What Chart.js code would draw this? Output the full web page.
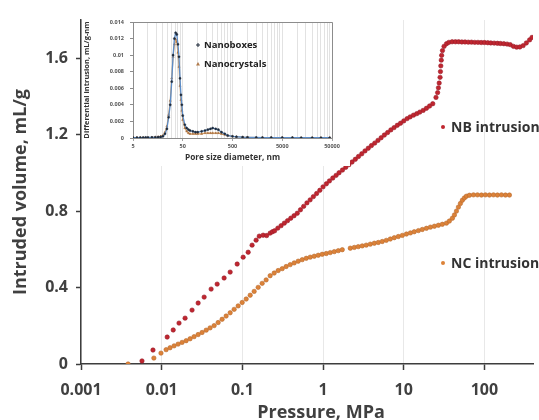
<!DOCTYPE html>
<html>
<head>
<meta charset="utf-8">
<script src="https://cdn.jsdelivr.net/npm/chart.js@4.4.1/dist/chart.umd.min.js"></script>
<style>
  html, body { margin: 0; padding: 0; background: #fff; }
  #wrap { position: relative; width: 539px; height: 420px; overflow: hidden; }
  #main { position: absolute; left: 0; top: 0; }
  #inset { position: absolute; left: 82px; top: 10px; background: #fff; }
</style>
</head>
<body>
<div id="wrap">
  <canvas id="main" width="539" height="420"></canvas>
  <canvas id="inset" width="268" height="156"></canvas>
</div>
<script>
// ---- Mercury intrusion curves (pressure in MPa, intruded volume in mL/g) ----
const pressureTicks = [0.001, 0.01, 0.1, 1, 10, 100];
const pressureTickLabels = ['0.001', '0.01', '0.1', '1', '10', '100'];
const volumeTicks = [0, 0.4, 0.8, 1.2, 1.6];
const volumeTickLabels = ['0', '0.4', '0.8', '1.2', '1.6'];

const seriesNames = ['NB intrusion', 'NC intrusion'];

const nbPressure = [
  0.0057, 0.0078, 0.0117, 0.0139, 0.0164, 0.0195, 0.0238, 0.0283, 0.0336, 0.0410,
  0.0487, 0.0594, 0.0706, 0.0862, 0.1023, 0.118, 0.132, 0.148, 0.162, 0.181,
  0.200, 0.221, 0.236,
  0.251, 0.275, 0.302, 0.331, 0.363, 0.398, 0.437, 0.479, 0.525, 0.575,
  0.631, 0.692, 0.759, 0.832, 0.912, 1.00, 1.10, 1.20, 1.32, 1.45,
  1.58, 1.74, 1.91, 2.09, 2.29, 2.51, 2.75, 3.02, 3.31, 3.63,
  3.98, 4.37, 4.79, 5.25, 5.75, 6.31, 6.92, 7.59, 8.32, 9.12,
  10.0, 11.0, 12.0, 13.2, 14.5, 15.8, 17.4, 19.1, 20.9, 22.9, 25.1,
  26.3, 26.9, 27.5, 28.2, 28.5, 28.8, 29.2, 29.5, 30.2, 31.6, 33.9, 36.3, 39.8,
  43.7, 47.9, 52.5, 57.5, 63.1, 69.2, 75.9, 83.2, 91.2, 100, 110, 120, 132, 145, 158, 174, 191, 209,
  229, 251, 275, 302, 331, 363, 389
];
const nbVolume = [
  0.016, 0.073, 0.141, 0.178, 0.214, 0.240, 0.282, 0.319, 0.350, 0.392,
  0.418, 0.450, 0.481, 0.523, 0.559, 0.585, 0.622, 0.648, 0.669, 0.674,
  0.672, 0.685, 0.692,
  0.697, 0.711, 0.724, 0.737, 0.750, 0.763, 0.776, 0.789, 0.807, 0.825,
  0.843, 0.859, 0.876, 0.892, 0.909, 0.927, 0.943, 0.958, 0.973, 0.987,
  1.001, 1.015, 1.029, 1.043, 1.057, 1.071, 1.086, 1.100, 1.115, 1.129,
  1.143, 1.156, 1.170, 1.184, 1.198, 1.211, 1.225, 1.237, 1.249, 1.260,
  1.272, 1.284, 1.293, 1.302, 1.310, 1.318, 1.327, 1.338, 1.350, 1.362, 1.395,
  1.420, 1.445, 1.470, 1.500, 1.530, 1.560, 1.590, 1.615, 1.640, 1.662, 1.676, 1.683, 1.686,
  1.686, 1.686, 1.685, 1.685, 1.684, 1.684, 1.683, 1.683, 1.682, 1.682, 1.681, 1.680, 1.679, 1.678, 1.677, 1.676, 1.674, 1.671,
  1.662, 1.658, 1.659, 1.666, 1.680, 1.696, 1.709
];

const ncPressure = [
  0.00383, 0.0080, 0.0098, 0.01135, 0.0127, 0.01425, 0.01597, 0.0179, 0.0201, 0.0225,
  0.0252, 0.0283, 0.0317, 0.0356, 0.0398, 0.0447, 0.0501, 0.0561, 0.0629, 0.0706,
  0.0791, 0.0887, 0.0995, 0.1115, 0.125, 0.140, 0.157, 0.176, 0.197, 0.221,
  0.248, 0.278, 0.312, 0.349, 0.392, 0.439, 0.492, 0.552, 0.619, 0.694,
  0.778, 0.872, 0.977, 1.096, 1.228, 1.377, 1.545, 1.731,
  2.175, 2.44, 2.73, 3.06, 3.43, 3.85, 4.32, 4.84, 5.42, 6.08,
  6.82, 7.64, 8.57, 9.61, 10.8, 12.1, 13.5, 15.2, 17.0, 19.1,
  21.4, 24.0, 26.9, 30.1, 33.8, 36.8, 40.1, 42.5, 45.0, 47.6,
  50.4, 53.3, 56.5, 59.8, 65.2, 73.1, 81.9, 91.8, 102.8, 115.4,
  129.4, 144.9, 162.6, 182.4, 204.2
];
const ncVolume = [
  0, 0.031, 0.057, 0.075, 0.085, 0.095, 0.104, 0.113, 0.122, 0.132,
  0.143, 0.154, 0.165, 0.177, 0.189, 0.201, 0.217, 0.234, 0.251, 0.268,
  0.286, 0.304, 0.322, 0.340, 0.360, 0.380, 0.401, 0.422, 0.440, 0.462,
  0.476, 0.489, 0.499, 0.510, 0.520, 0.529, 0.538, 0.546, 0.553, 0.559,
  0.564, 0.569, 0.574, 0.578, 0.583, 0.588, 0.593, 0.598,
  0.606, 0.610, 0.614, 0.618, 0.622, 0.627, 0.632, 0.636, 0.641, 0.647,
  0.654, 0.661, 0.667, 0.673, 0.680, 0.686, 0.692, 0.698, 0.704, 0.710,
  0.716, 0.721, 0.726, 0.731, 0.737, 0.748, 0.763, 0.780, 0.800, 0.821,
  0.840, 0.857, 0.869, 0.878, 0.883, 0.885, 0.885, 0.884, 0.885, 0.884,
  0.885, 0.884, 0.885, 0.884, 0.884
];

// ---- Pore size distribution (inset) ----
const insetXTicks = [5, 50, 500, 5000, 50000];
const insetYTicks = [0, 0.002, 0.004, 0.006, 0.008, 0.01, 0.012, 0.014];
const insetYTickLabels = ['0', '0.002', '0.004', '0.006', '0.008', '0.01', '0.012', '0.014'];
const insetNames = ['Nanoboxes', 'Nanocrystals'];

const poreDiameter = [
  5, 6, 7, 8, 9, 10, 12, 14, 16, 18, 20, 22, 24, 26, 28, 30, 32, 34, 36, 38,
  40, 42, 44, 46, 48, 50, 55, 60, 65, 70, 80, 90, 100, 120, 140, 160, 180, 200,
  230, 260, 300, 350, 400, 500, 600, 800, 1000, 1500, 2000, 3000, 5000, 8000,
  12000, 20000, 30000, 45000
];
const nanoboxes = [
  0.00005, 0.00005, 0.00005, 0.00005, 0.00006, 0.00006, 0.00007, 0.00008, 0.0001, 0.00013,
  0.0002, 0.0005, 0.0011, 0.0025, 0.0040, 0.0068, 0.0100, 0.0120, 0.0127, 0.0125,
  0.0113, 0.0098, 0.0072, 0.0052, 0.0040, 0.0027, 0.0016, 0.0012, 0.0010, 0.0009,
  0.0008, 0.0007, 0.0007, 0.0008, 0.0009, 0.0010, 0.0011, 0.0012,
  0.0011, 0.0010, 0.0007, 0.0005, 0.0003, 0.0002, 0.00015, 0.0001, 0.00008, 0.00006,
  0.00005, 0.00005, 0.00004, 0.00004, 0.00003, 0.00003, 0.00003, 0.00003
];
const nanocrystals = [
  0.00004, 0.00004, 0.00005, 0.00005, 0.00005, 0.00006, 0.00008, 0.0001, 0.00013, 0.0002,
  0.0003, 0.0007, 0.0014, 0.0028, 0.0045, 0.0072, 0.0098, 0.0113, 0.0119, 0.0116,
  0.0103, 0.0086, 0.0063, 0.0046, 0.0033, 0.0022, 0.0012, 0.0008, 0.0006, 0.0005,
  0.0005, 0.0005, 0.0005, 0.0005, 0.0006, 0.0006, 0.0006, 0.0006,
  0.0006, 0.0006, 0.0005, 0.0004, 0.0003, 0.0002, 0.00015, 0.0001, 0.00008, 0.00006,
  0.00005, 0.00005, 0.00004, 0.00004, 0.00003, 0.00003, 0.00003, 0.00003
];

Chart.defaults.font.family = "'Open Sans', 'Liberation Sans', sans-serif";
Chart.defaults.animation = false;

const NB_COLOR = '#c0262f';
const NB_EDGE = '#981c2a';
const NC_COLOR = '#dc8238';
const NC_EDGE = '#b8692e';
const AXIS_COLOR = '#3d3d3d';
const TEXT_COLOR = '#404040';

function pairs(xs, ys) { return xs.map((x, i) => ({ x: x, y: ys[i] })); }

// Series names beside the curves, and the pressure axis title
const curveLabels = {
  id: 'curveLabels',
  afterDatasetsDraw(chart) {
    const { ctx, chartArea } = chart;
    const spots = [
      { dx: 362, dy: 107, color: NB_COLOR },
      { dx: 362, dy: 243, color: NC_COLOR }
    ];
    ctx.save();
    ctx.font = "bold 14px 'Open Sans'";
    ctx.textBaseline = 'middle';
    ctx.textAlign = 'left';
    seriesNames.forEach((name, i) => {
      const x = chartArea.left + spots[i].dx;
      const y = chartArea.top + spots[i].dy;
      ctx.fillStyle = spots[i].color;
      ctx.beginPath();
      ctx.arc(x, y, 2, 0, Math.PI * 2);
      ctx.fill();
      ctx.fillStyle = '#333';
      ctx.fillText(name, x + 8, y + 1);
    });

    ctx.font = "bold 18px 'Open Sans'";
    ctx.fillStyle = TEXT_COLOR;
    ctx.textAlign = 'center';
    ctx.textBaseline = 'alphabetic';
    ctx.fillText('Pressure, MPa', chartArea.left + 240, chartArea.bottom + 54);
    ctx.restore();
  }
};

new Chart(document.getElementById('main'), {
  type: 'scatter',
  data: {
    datasets: [
      {
        label: seriesNames[0],
        data: pairs(nbPressure, nbVolume),
        pointRadius: 2.2,
        pointBackgroundColor: NB_COLOR,
        pointBorderColor: NB_EDGE,
        pointBorderWidth: 0.6
      },
      {
        label: seriesNames[1],
        data: pairs(ncPressure, ncVolume),
        pointRadius: 2.2,
        pointBackgroundColor: NC_COLOR,
        pointBorderColor: NC_EDGE,
        pointBorderWidth: 0.6
      }
    ]
  },
  options: {
    responsive: false,
    devicePixelRatio: 1,
    layout: { padding: { left: 0, top: 20, right: 6, bottom: 0 } },
    plugins: { legend: { display: false }, tooltip: { enabled: false } },
    scales: {
      x: {
        type: 'logarithmic',
        min: 0.001,
        max: 400,
        afterBuildTicks: s => { s.ticks = pressureTicks.map(v => ({ value: v })); },
        afterFit: s => { s.height = 56; },
        ticks: {
          autoSkip: false,
          maxRotation: 0,
          padding: 11,
          color: TEXT_COLOR,
          font: { size: 16, weight: 'bold' },
          callback: (v, i) => pressureTickLabels[i]
        },
        grid: { color: '#e8e8e8', lineWidth: 1, tickLength: 6, tickColor: AXIS_COLOR, tickWidth: 1.5 },
        border: { color: AXIS_COLOR, width: 1.5 },
        title: { display: false }
      },
      y: {
        min: 0,
        max: 1.8,
        afterBuildTicks: s => { s.ticks = volumeTicks.map(v => ({ value: v })); },
        afterFit: s => { s.width = 81; },
        ticks: {
          padding: 8,
          color: TEXT_COLOR,
          font: { size: 16, weight: 'bold' },
          callback: (v, i) => volumeTickLabels[i]
        },
        grid: { drawOnChartArea: false, tickLength: 5, tickColor: AXIS_COLOR, tickWidth: 1.5 },
        border: { color: AXIS_COLOR, width: 1.5 },
        title: {
          display: true,
          text: 'Intruded volume, mL/g',
          color: TEXT_COLOR,
          font: { size: 18, weight: 'bold' },
          padding: { top: 10, bottom: 0 }
        }
      }
    }
  },
  plugins: [curveLabels]
});

// Inset: box around the plot area and the in-plot legend
const insetFrame = {
  id: 'insetFrame',
  beforeDraw(chart) {
    const { ctx, width, height } = chart;
    ctx.save();
    ctx.fillStyle = '#fff';
    ctx.fillRect(0, 0, width, height);
    ctx.restore();
  },
  afterDraw(chart) {
    const { ctx, chartArea: a } = chart;
    ctx.save();
    ctx.strokeStyle = '#8c8c8c';
    ctx.lineWidth = 1;
    ctx.beginPath();
    ctx.moveTo(a.left, a.top + 0.5);
    ctx.lineTo(a.right + 0.5, a.top + 0.5);
    ctx.lineTo(a.right + 0.5, a.bottom);
    ctx.stroke();

    ctx.font = "bold 9.5px 'Open Sans'";
    ctx.textBaseline = 'middle';
    const lx = a.left + 65;
    const ly = [a.top + 23, a.top + 42];
    // "+" marker for Nanoboxes
    ctx.strokeStyle = '#1e2a3a';
    ctx.lineWidth = 1;
    ctx.beginPath();
    ctx.moveTo(lx - 2, ly[0]); ctx.lineTo(lx + 2, ly[0]);
    ctx.moveTo(lx, ly[0] - 2); ctx.lineTo(lx, ly[0] + 2);
    ctx.stroke();
    // triangle marker for Nanocrystals
    ctx.fillStyle = '#b07a4a';
    ctx.beginPath();
    ctx.moveTo(lx, ly[1] - 2); ctx.lineTo(lx + 2, ly[1] + 1.5); ctx.lineTo(lx - 2, ly[1] + 1.5);
    ctx.closePath();
    ctx.fill();
    ctx.fillStyle = '#222';
    insetNames.forEach((n, i) => ctx.fillText(n, lx + 6, ly[i]));
    ctx.restore();
  }
};

new Chart(document.getElementById('inset'), {
  type: 'scatter',
  data: {
    datasets: [
      {
        label: insetNames[0],
        data: pairs(poreDiameter, nanoboxes),
        showLine: true,
        borderColor: '#5b8cc8',
        borderWidth: 1.3,
        pointRadius: 1.1,
        pointBackgroundColor: '#1e2a3a',
        pointBorderColor: '#1e2a3a',
        pointBorderWidth: 0.4
      },
      {
        label: insetNames[1],
        data: pairs(poreDiameter, nanocrystals),
        showLine: true,
        borderColor: '#dba56c',
        borderWidth: 1.2,
        pointRadius: 1.3,
        pointStyle: 'triangle',
        pointBackgroundColor: '#a8703f',
        pointBorderColor: '#a8703f',
        pointBorderWidth: 0.4
      }
    ]
  },
  options: {
    responsive: false,
    devicePixelRatio: 1,
    layout: { padding: { left: 0, top: 12, right: 18, bottom: 0 } },
    plugins: { legend: { display: false }, tooltip: { enabled: false } },
    scales: {
      x: {
        type: 'logarithmic',
        min: 5,
        max: 50000,
        afterBuildTicks: s => {
          const t = [];
          insetXTicks.forEach((v, i) => {
            if (i < insetXTicks.length - 1) {
              for (let k = 1; k < 10; k++) t.push({ value: v * k });
            } else {
              t.push({ value: v });
            }
          });
          s.ticks = t;
        },
        afterFit: s => { s.height = 28; },
        ticks: {
          autoSkip: false,
          maxRotation: 0,
          padding: 2,
          color: '#555',
          font: { size: 5.5, weight: 'bold' },
          callback: v => (insetXTicks.includes(v) ? String(v) : '')
        },
        grid: {
          color: '#dadada',
          lineWidth: 0.8,
          tickLength: 3,
          tickColor: c => (c.tick && insetXTicks.includes(c.tick.value) ? '#8c8c8c' : 'rgba(0,0,0,0)')
        },
        border: { color: '#8c8c8c', width: 1 },
        title: {
          display: true,
          text: 'Pore size diameter, nm',
          color: '#333',
          font: { size: 8.3, weight: 'bold' },
          padding: { top: 0, bottom: 3 }
        }
      },
      y: {
        min: 0,
        max: 0.014,
        afterBuildTicks: s => { s.ticks = insetYTicks.map(v => ({ value: v })); },
        afterFit: s => { s.width = 51; },
        ticks: {
          padding: 6,
          color: '#555',
          font: { size: 5.5, weight: 'bold' },
          callback: (v, i) => insetYTickLabels[i]
        },
        grid: { drawOnChartArea: false, tickLength: 3, tickColor: '#8c8c8c' },
        border: { color: '#8c8c8c', width: 1 },
        title: {
          display: true,
          text: 'Differential intrusion, mL/g-nm',
          color: '#333',
          font: { size: 7.5, weight: 'bold' },
          padding: { top: 0, bottom: 0 }
        }
      }
    }
  },
  plugins: [insetFrame]
});
</script>
</body>
</html>
